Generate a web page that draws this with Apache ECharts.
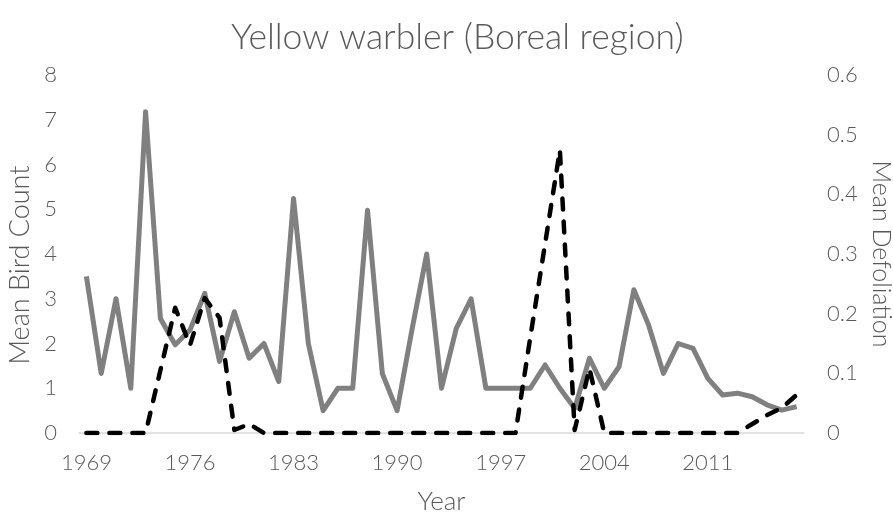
<!DOCTYPE html>
<html>
<head>
<meta charset="utf-8">
<script src="https://cdn.jsdelivr.net/npm/echarts@6/dist/echarts.min.js"></script>
<style>
  html, body { margin: 0; padding: 0; background: #fff; }
  #main { width: 893px; height: 518px; }
</style>
</head>
<body>
<div id="main"></div>
<script>
// years 1969-2017
var years = [];
for (var y = 1969; y <= 2017; y++) years.push(String(y));

// mean bird count (left axis)
var birdCount = [
  3.5, 1.33, 3.0, 1.0, 7.18, 2.56, 1.97, 2.3, 3.12, 1.6,
  2.71, 1.67, 2.0, 1.15, 5.24, 2.0, 0.5, 1.0, 1.0, 4.98,
  1.33, 0.5, 2.3, 4.0, 1.0, 2.34, 3.0, 1.0, 1.0, 1.0,
  1.0, 1.52, 1.0, 0.55, 1.67, 1.0, 1.48, 3.2, 2.41, 1.33,
  2.0, 1.89, 1.22, 0.85, 0.89, 0.81, 0.63, 0.51, 0.59
];

// mean defoliation (right axis)
var defoliation = [
  0, 0, 0, 0, 0, 0.105, 0.21, 0.147, 0.226, 0.193,
  0.005, 0.015, 0, 0, 0, 0, 0, 0, 0, 0,
  0, 0, 0, 0, 0, 0, 0, 0, 0, 0,
  0.16, 0.317, 0.474, 0.005, 0.108, 0, 0, 0, 0, 0,
  0, 0, 0, 0, 0, 0.015, 0.03, 0.042, 0.064
];

var textColor = '#595959';
var font = 'Lato';

var myChart = echarts.init(document.getElementById('main'));
var option = {
  animation: false,
  title: {
    text: 'Yellow warbler (Boreal region)',
    left: 226,
    top: 15,
    textStyle: { fontFamily: font, fontSize: 35.5, fontWeight: 300, color: textColor }
  },
  grid: { left: 79, right: 89, top: 75, bottom: 85, outerBoundsMode: 'none', containLabel: false },
  xAxis: {
    type: 'category',
    data: years,
    boundaryGap: true,
    name: 'Year',
    nameLocation: 'middle',
    nameGap: 56,
    nameTextStyle: { fontFamily: font, fontSize: 26, fontWeight: 300, color: textColor },
    axisLine: { lineStyle: { color: '#d9d9d9', width: 1.5 } },
    axisTick: { show: false },
    axisLabel: { interval: 6, margin: 19, fontFamily: font, fontSize: 22, fontWeight: 300, color: textColor },
    splitLine: { show: false }
  },
  yAxis: [{
    type: 'value',
    min: 0,
    max: 8,
    interval: 1,
    name: 'Mean Bird Count',
    nameLocation: 'middle',
    nameGap: 43,
    nameTextStyle: { fontFamily: font, fontSize: 27, fontWeight: 300, color: textColor, padding: [0, 22, 0, 0] },
    axisLine: { show: false },
    axisTick: { show: false },
    axisLabel: { margin: 22, fontFamily: font, fontSize: 22, fontWeight: 300, color: textColor },
    splitLine: { show: false }
  }, {
    type: 'value',
    min: 0,
    max: 0.6,
    interval: 0.1,
    name: 'Mean Defoliation',
    nameLocation: 'middle',
    nameGap: 64,
    nameRotate: -90,
    nameTextStyle: { fontFamily: font, fontSize: 25, fontWeight: 300, color: textColor },
    axisLine: { show: false },
    axisTick: { show: false },
    axisLabel: { margin: 23, fontFamily: font, fontSize: 22, fontWeight: 300, color: textColor },
    splitLine: { show: false }
  }],
  series: [{
    name: 'Mean Bird Count',
    type: 'line',
    yAxisIndex: 0,
    data: birdCount,
    showSymbol: false,
    symbol: 'none',
    lineStyle: { color: '#808080', width: 5, join: 'round' }
  }, {
    name: 'Mean Defoliation',
    type: 'line',
    yAxisIndex: 1,
    data: defoliation,
    showSymbol: false,
    symbol: 'none',
    z: 3,
    lineStyle: { color: '#000000', width: 4.5, type: [11, 12], cap: 'round', join: 'round' }
  }]
};
myChart.setOption(option);
</script>
</body>
</html>
